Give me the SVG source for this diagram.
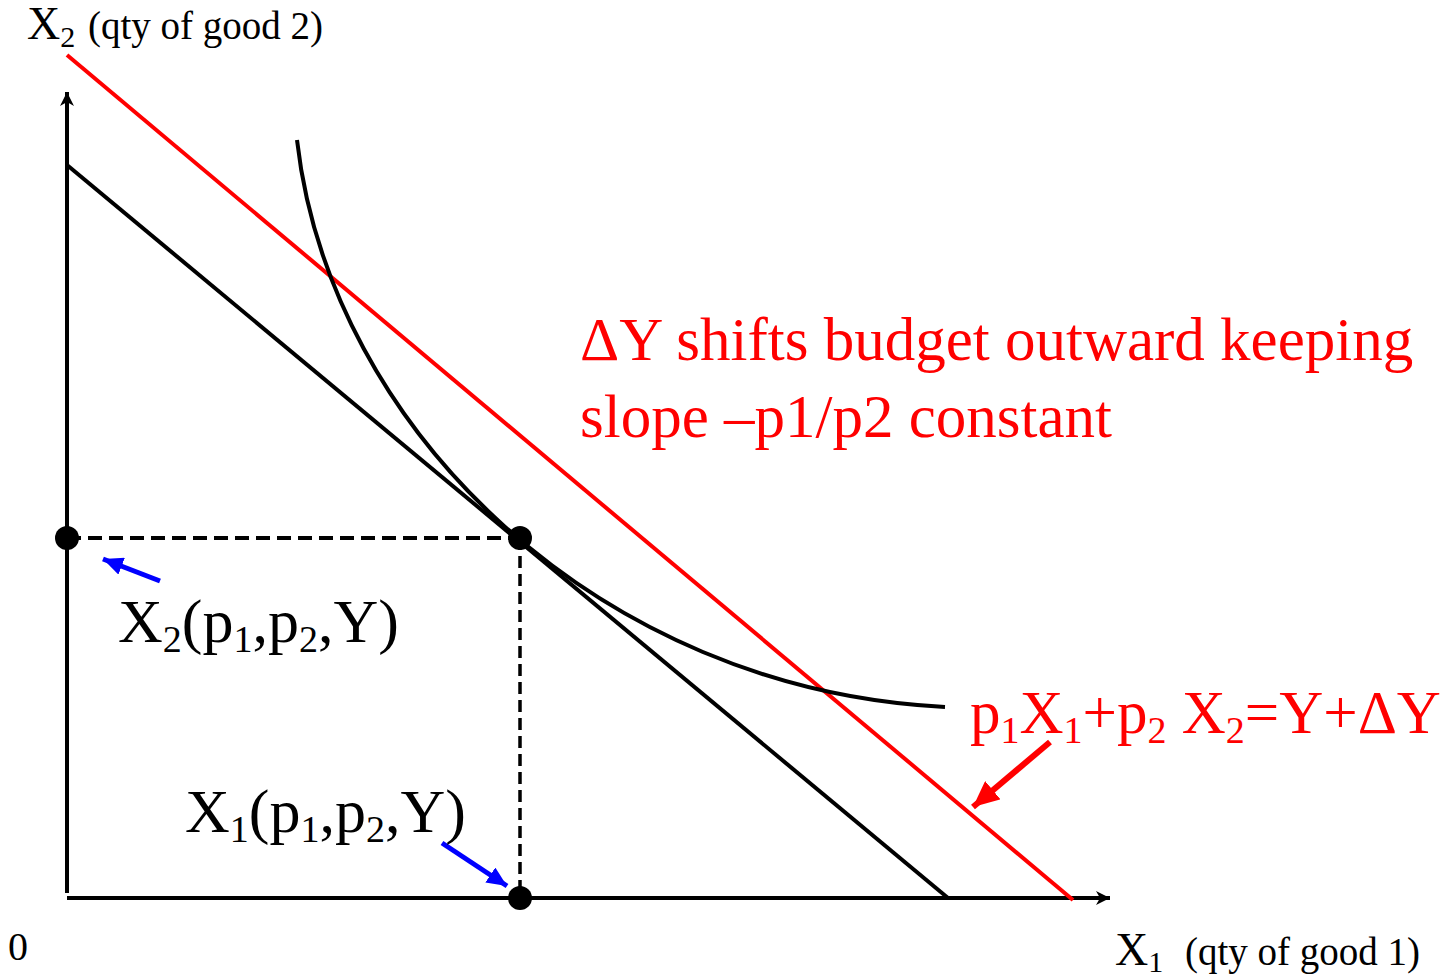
<svg xmlns="http://www.w3.org/2000/svg" width="1450" height="980" viewBox="0 0 1450 980">
<defs>
<style>
text{font-family:"Liberation Serif","Times New Roman",serif;}
.blk{fill:#000;}
.red{fill:#ff0000;}
.ax{stroke:#000;stroke-width:4;fill:none;}
.bl{stroke:#000;stroke-width:4;fill:none;}
.rl{stroke:#ff0000;stroke-width:4;fill:none;}
.dash{stroke:#000;fill:none;}
.blue{stroke:#0000ff;stroke-width:5;fill:none;}
.redarr{stroke:#ff0000;stroke-width:6;fill:none;}
.dot{fill:#000;}
</style>
<marker id="axhead" markerUnits="userSpaceOnUse" markerWidth="16" markerHeight="14" refX="14" refY="7" orient="auto">
<path d="M0,0 L14,7 L0,14 L4,7 Z" fill="#000"/>
</marker>
<marker id="bluehead" markerUnits="userSpaceOnUse" markerWidth="22" markerHeight="18" refX="20" refY="9" orient="auto">
<path d="M0,0 L20,9 L0,18 Z" fill="#0000ff"/>
</marker>
<marker id="redhead" markerUnits="userSpaceOnUse" markerWidth="28" markerHeight="24" refX="26" refY="12" orient="auto">
<path d="M0,0 L26,12 L0,24 Z" fill="#ff0000"/>
</marker>
</defs>
<rect width="1450" height="980" fill="#ffffff"/>

<g id="connectors">
<line id="y-axis" class="ax" x1="67" y1="893" x2="67" y2="92" marker-end="url(#axhead)"/>
<line id="x-axis" class="ax" x1="67" y1="898" x2="1110" y2="898" marker-end="url(#axhead)"/>
<line id="budget-old" class="bl" x1="67" y1="165" x2="948" y2="898"/>
<line id="budget-new" class="rl" x1="67" y1="55" x2="1073" y2="900"/>
<path id="indifference" class="bl" d="M297,140 C330,430 600,690 945,707"/>
<line id="dash-h" class="dash" stroke-width="4" stroke-dasharray="14,7" x1="67" y1="538" x2="520" y2="538"/>
<line id="dash-v" class="dash" stroke-width="3.5" stroke-dasharray="12,6" x1="520" y1="538" x2="520" y2="898"/>
<line id="arrow-x2" class="blue" x1="160" y1="581" x2="103" y2="559" marker-end="url(#bluehead)"/>
<line id="arrow-x1" class="blue" x1="442" y1="843" x2="507" y2="886" marker-end="url(#bluehead)"/>
<line id="arrow-budget" class="redarr" x1="1050" y1="742" x2="973" y2="807" marker-end="url(#redhead)"/>
</g>

<g id="node-dot-x2"><circle class="dot" cx="67" cy="538" r="12"/></g>
<g id="node-dot-opt"><circle class="dot" cx="520" cy="538" r="12"/></g>
<g id="node-dot-x1"><circle class="dot" cx="520" cy="898" r="12"/></g>

<g id="label-y-axis">
<text class="blk" x="27" y="39"><tspan font-size="46">X</tspan><tspan font-size="30" dy="8">2</tspan><tspan font-size="39" dy="-8" x="88">(qty of good 2)</tspan></text>
</g>
<g id="label-x-axis">
<text class="blk" x="1115" y="965"><tspan font-size="46">X</tspan><tspan font-size="30" dy="7">1</tspan><tspan font-size="39" dy="-7" x="1185">(qty of good 1)</tspan></text>
</g>
<g id="label-origin">
<text class="blk" x="8" y="960" font-size="40">0</text>
</g>
<g id="label-note">
<text class="red" x="580" y="360" font-size="61">ΔY shifts budget outward keeping</text>
<text class="red" x="580" y="437" font-size="61">slope –p1/p2 constant</text>
</g>
<g id="label-equation">
<text class="red" x="970" y="733" font-size="61">p<tspan font-size="38" dy="10">1</tspan><tspan dy="-10">X</tspan><tspan font-size="38" dy="10">1</tspan><tspan dy="-10">+p</tspan><tspan font-size="38" dy="10">2</tspan><tspan dy="-10"> X</tspan><tspan font-size="38" dy="10">2</tspan><tspan dy="-10">=Y+ΔY</tspan></text>
</g>
<g id="label-x2-demand">
<text class="blk" x="118" y="642" font-size="62">X<tspan font-size="38" dy="10">2</tspan><tspan dy="-10">(p</tspan><tspan font-size="38" dy="10">1</tspan><tspan dy="-10">,p</tspan><tspan font-size="38" dy="10">2</tspan><tspan dy="-10">,Y)</tspan></text>
</g>
<g id="label-x1-demand">
<text class="blk" x="185" y="832" font-size="62">X<tspan font-size="38" dy="10">1</tspan><tspan dy="-10">(p</tspan><tspan font-size="38" dy="10">1</tspan><tspan dy="-10">,p</tspan><tspan font-size="38" dy="10">2</tspan><tspan dy="-10">,Y)</tspan></text>
</g>
</svg>
